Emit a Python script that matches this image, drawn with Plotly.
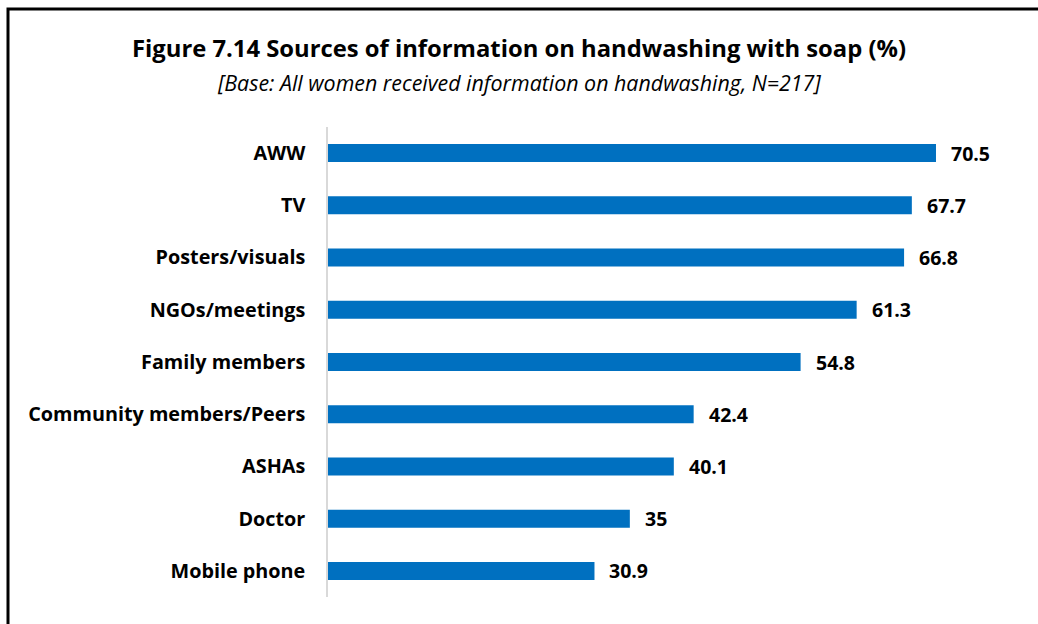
import plotly.graph_objects as go

categories = ["AWW", "TV", "Posters/visuals", "NGOs/meetings", "Family members",
              "Community members/Peers", "ASHAs", "Doctor", "Mobile phone"]
values = [70.5, 67.7, 66.8, 61.3, 54.8, 42.4, 40.1, 35, 30.9]
value_labels = ["70.5", "67.7", "66.8", "61.3", "54.8", "42.4", "40.1", "35", "30.9"]

W, H = 1038, 624
LEFT, RIGHT, TOP, BOTTOM = 328, 1000, 127, 597
FONT = "Open Sans"

def px_x(p):
    return (p - LEFT) / (RIGHT - LEFT)

def px_y(p):
    return (BOTTOM - p) / (BOTTOM - TOP)

fig = go.Figure()
fig.add_trace(go.Bar(
    x=values, y=categories, orientation="h",
    marker=dict(color="#0070C0", line=dict(width=0)),
    hoverinfo="skip",
))

for v, c, t in zip(values, categories, value_labels):
    fig.add_annotation(x=v, y=c, text=t, showarrow=False, xanchor="left",
                       xshift=13, font=dict(family=FONT, size=19.5, color="#000000", weight="bold"))

fig.add_annotation(xref="paper", yref="paper", x=px_x(519), y=px_y(48),
                   text="<b>Figure 7.14 Sources of information on handwashing with soap (%)</b>",
                   showarrow=False, xanchor="center", yanchor="middle",
                   font=dict(family=FONT, size=23.8, color="#000000"))
fig.add_annotation(xref="paper", yref="paper", x=px_x(519), y=px_y(82),
                   text="<i>[Base: All women received information on handwashing, N=217]</i>",
                   showarrow=False, xanchor="center", yanchor="middle",
                   font=dict(family=FONT, size=21.4, color="#000000"))

# outer frame
fig.add_shape(type="rect", xref="paper", yref="paper",
              x0=px_x(8), x1=px_x(1046), y0=px_y(632), y1=px_y(9),
              line=dict(color="#000000", width=3), fillcolor="rgba(0,0,0,0)")

fig.update_layout(
    width=W, height=H,
    margin=dict(l=LEFT, r=W - RIGHT, t=TOP, b=H - BOTTOM, autoexpand=False),
    paper_bgcolor="white", plot_bgcolor="white",
    bargap=0.655, showlegend=False,
    font=dict(family=FONT, color="#000000"),
)
fig.update_xaxes(range=[0, (RIGHT - LEFT) / 8.624], showgrid=False, zeroline=False,
                 showticklabels=False, ticks="", showline=False)
fig.update_yaxes(autorange="reversed", showgrid=False, zeroline=False, ticks="",
                 showline=True, linecolor="#D9D9D9", linewidth=1.5,
                 ticklabelstandoff=17,
                 tickfont=dict(family=FONT, size=19.8, color="#000000", weight="bold"))

fig.write_html("out.html")
